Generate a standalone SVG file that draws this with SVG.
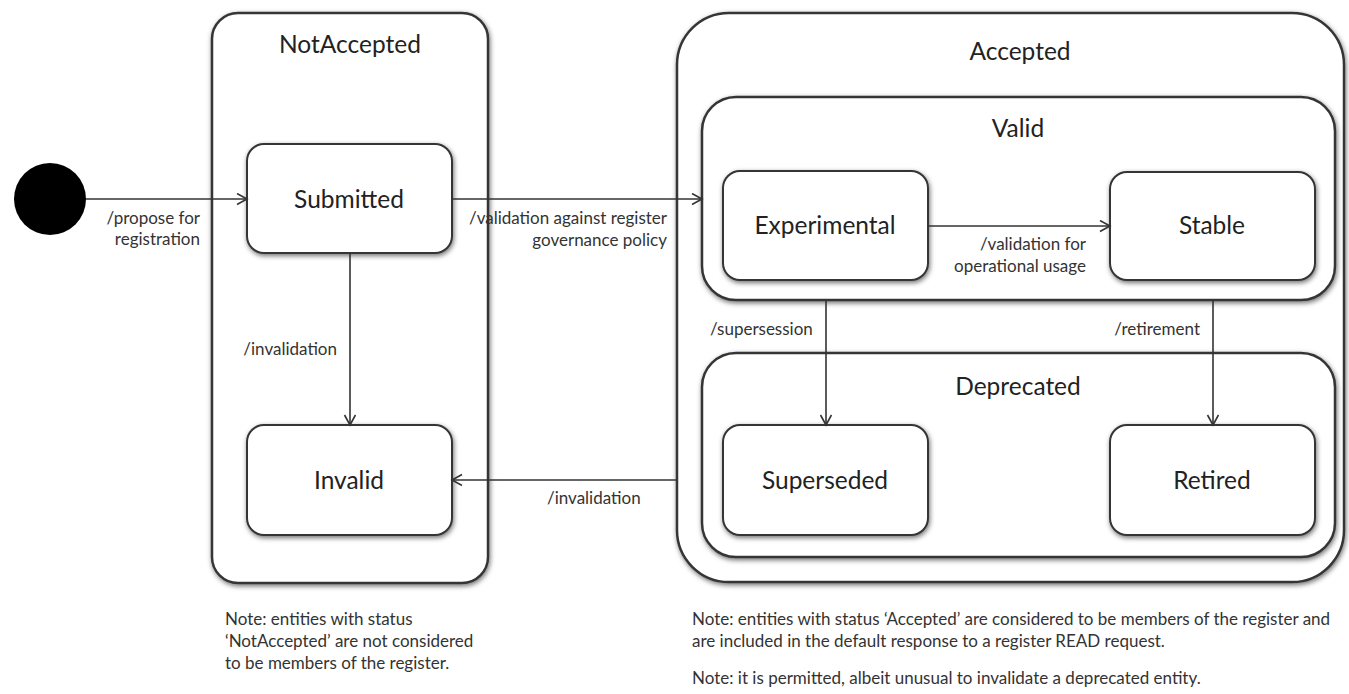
<svg xmlns="http://www.w3.org/2000/svg" width="1349" height="694" viewBox="0 0 1349 694">
<style>
  .box { fill: #fff; stroke: #353535; stroke-width: 2.5; filter: url(#sh); }
  .node { fill: #fff; stroke: #353535; stroke-width: 2; filter: url(#sh); }
  .title { font-family: Lato, "Liberation Sans", sans-serif; font-size: 24.5px; fill: #222; text-anchor: middle; }
  .lbl { font-family: Lato, "Liberation Sans", sans-serif; font-size: 17px; fill: #333; }
  .note { font-family: Lato, "Liberation Sans", sans-serif; font-size: 17px; fill: #333; }
  .edge { fill: none; stroke: #333; stroke-width: 1.6; marker-end: url(#arr); }
</style>
<defs>
  <filter id="sh" x="-10%" y="-10%" width="120%" height="120%">
    <feDropShadow dx="1" dy="2" stdDeviation="2.5" flood-color="#000" flood-opacity="0.55"/>
  </filter>
  <marker id="arr" markerUnits="userSpaceOnUse" markerWidth="14" markerHeight="14" refX="11" refY="6" orient="auto">
    <path d="M1,0.5 L11,6 L1,11.5" fill="none" stroke="#333" stroke-width="1.6"/>
  </marker>
</defs>
<rect width="1349" height="694" fill="#fff"/>

<g id="NotAccepted">
  <rect class="box" x="212" y="13" width="276" height="570" rx="26"/>
  <text class="title" x="350" y="53">NotAccepted</text>
</g>
<g id="Accepted">
  <rect class="box" x="677" y="13" width="667" height="569" rx="52"/>
  <text class="title" x="1020" y="60">Accepted</text>
</g>
<g id="Valid">
  <rect class="box" x="702" y="97" width="633" height="203" rx="34"/>
  <text class="title" x="1018" y="137">Valid</text>
</g>
<g id="Deprecated">
  <rect class="box" x="702" y="353" width="633" height="204" rx="34"/>
  <text class="title" x="1018" y="395">Deprecated</text>
</g>

<g id="Initial">
  <circle cx="50" cy="199" r="36" fill="#000"/>
</g>
<g id="Submitted">
  <rect class="node" x="247" y="144" width="205" height="109" rx="17"/>
  <text class="title" x="349" y="208">Submitted</text>
</g>
<g id="Invalid">
  <rect class="node" x="247" y="425" width="205" height="110" rx="17"/>
  <text class="title" x="349" y="489">Invalid</text>
</g>
<g id="Experimental">
  <rect class="node" x="723" y="171" width="205" height="109" rx="17"/>
  <text class="title" x="825" y="234">Experimental</text>
</g>
<g id="Stable">
  <rect class="node" x="1110" y="172" width="205" height="108" rx="17"/>
  <text class="title" x="1212" y="234">Stable</text>
</g>
<g id="Superseded">
  <rect class="node" x="723" y="425" width="205" height="110" rx="17"/>
  <text class="title" x="825" y="489">Superseded</text>
</g>
<g id="Retired">
  <rect class="node" x="1110" y="425" width="205" height="110" rx="17"/>
  <text class="title" x="1212" y="489">Retired</text>
</g>

<g id="connectors">
  <path class="edge" d="M86,199 L247,199"/>
  <path class="edge" d="M452,199 L702,199"/>
  <path class="edge" d="M350,253 L350,425"/>
  <path class="edge" d="M928,226 L1110,226"/>
  <path class="edge" d="M826,300 L826,425"/>
  <path class="edge" d="M1213,300 L1213,425"/>
  <path class="edge" d="M677,480 L452,480"/>
</g>

<g id="labels" class="lbl">
  <text x="200" y="224" text-anchor="end">/propose for</text>
  <text x="200" y="245" text-anchor="end">registration</text>
  <text x="667" y="224" text-anchor="end">/validation against register</text>
  <text x="667" y="246" text-anchor="end">governance policy</text>
  <text x="337" y="355" text-anchor="end">/invalidation</text>
  <text x="1086" y="250" text-anchor="end">/validation for</text>
  <text x="1086" y="272" text-anchor="end">operational usage</text>
  <text x="710" y="335">/supersession</text>
  <text x="1200" y="335" text-anchor="end">/retirement</text>
  <text x="547" y="504">/invalidation</text>
</g>

<g id="notes" class="note">
  <text x="225" y="625">Note: entities with status</text>
  <text x="225" y="647">‘NotAccepted’ are not considered</text>
  <text x="225" y="669">to be members of the register.</text>
  <text x="692" y="625">Note: entities with status ‘Accepted’ are considered to be members of the register and</text>
  <text x="692" y="647">are included in the default response to a register READ request.</text>
  <text x="692" y="684">Note: it is permitted, albeit unusual to invalidate a deprecated entity.</text>
</g>
</svg>
